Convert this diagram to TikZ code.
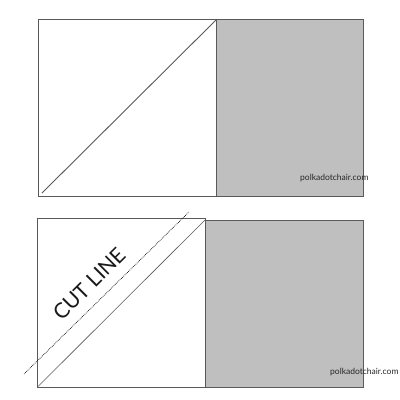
\documentclass[tikz,border=0pt]{standalone}
\usepackage{fontspec}
\setmainfont{Lato}
\begin{document}
\begin{tikzpicture}[yscale=-1,x=1pt,y=1pt]
      \useasboundingbox (0,0) rectangle (400,400);
      \tikzset{
        edge/.style={draw=black!65,line width=.9pt},
        shade/.style={edge,fill=black!25},
        site/.style={font=\fontsize{8.5}{9}\selectfont,text=black!85,inner sep=0pt}
      }
      % top block
      \draw[shade] (216.5,19) rectangle (363,196);
      \draw[edge] (38.5,19) rectangle (216.5,196);
      \draw[edge] (42,193) -- (216.5,19.5);
      \node[site,anchor=west] (webtop) at (300,178) {polkadotchair.com};
      % bottom block
      \draw[shade] (205,220) rectangle (363,387);
      \draw[edge] (37,218.5) rectangle (205,387);
      \draw[edge,line width=.6pt] (38,386.5) -- (205,220);
      \coordinate (cutA) at (24,374);
      \coordinate (cutB) at (189,212);
      \draw[densely dotted,line width=.7pt] (cutA) -- (cutB);
      \node[rotate=45,font=\fontsize{21}{22}\selectfont,text=black!90,inner sep=0pt] (cut) at (89,284) {CUT LINE};
      \node[site,anchor=west] (webbot) at (330,372) {polkadotchair.com};
    \end{tikzpicture}
\end{document}
